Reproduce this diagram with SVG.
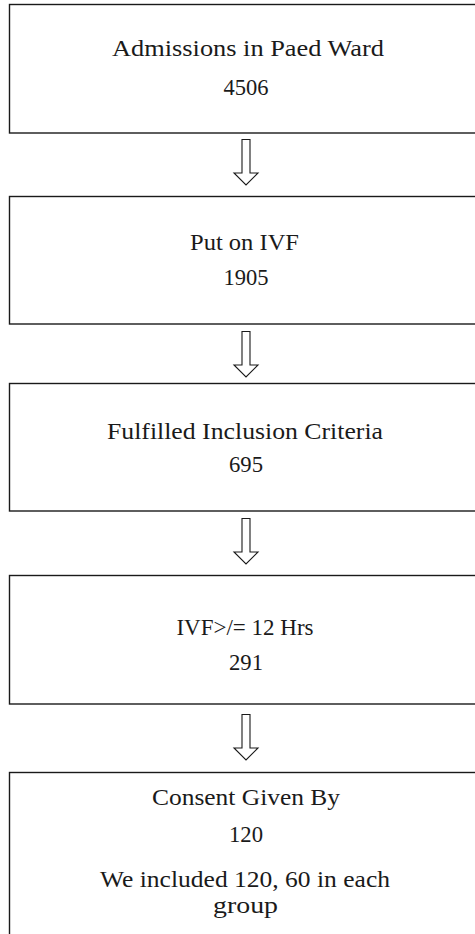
<svg xmlns="http://www.w3.org/2000/svg" width="475" height="934" viewBox="0 0 475 934">
<style>
.box{fill:#fff;stroke:#1a1a1a;stroke-width:1.4}
.t{font-family:"Liberation Serif","Times New Roman",serif;font-size:23px;fill:#1a1a1a;text-anchor:middle}
.arr{fill:#fff;stroke:#1a1a1a;stroke-width:1.1;stroke-linejoin:miter}
</style>
<rect width="475" height="934" fill="#fff"/>
<g id="n1">
<rect class="box" x="9.5" y="4.5" width="480" height="128.5"/>
<text class="t" x="248" y="56" textLength="272" lengthAdjust="spacingAndGlyphs">Admissions in Paed Ward</text>
<text class="t" x="246" y="95" textLength="45" lengthAdjust="spacingAndGlyphs">4506</text>
</g>
<g id="n2">
<rect class="box" x="9.5" y="196.5" width="480" height="127.5"/>
<text class="t" x="244.5" y="250" textLength="109" lengthAdjust="spacingAndGlyphs">Put on IVF</text>
<text class="t" x="246" y="285" textLength="45" lengthAdjust="spacingAndGlyphs">1905</text>
</g>
<g id="n3">
<rect class="box" x="9.5" y="383.5" width="480" height="127.5"/>
<text class="t" x="245" y="439" textLength="276" lengthAdjust="spacingAndGlyphs">Fulfilled Inclusion Criteria</text>
<text class="t" x="246" y="472" textLength="34" lengthAdjust="spacingAndGlyphs">695</text>
</g>
<g id="n4">
<rect class="box" x="9.5" y="575.5" width="480" height="128.5"/>
<text class="t" x="245" y="635">IVF&gt;/= 12 Hrs</text>
<text class="t" x="246" y="670" textLength="34" lengthAdjust="spacingAndGlyphs">291</text>
</g>
<g id="n5">
<rect class="box" x="9.5" y="772.5" width="480" height="170"/>
<text class="t" x="246" y="805" textLength="188" lengthAdjust="spacingAndGlyphs">Consent Given By</text>
<text class="t" x="246" y="842" textLength="34" lengthAdjust="spacingAndGlyphs">120</text>
<text class="t" x="245" y="887" textLength="290" lengthAdjust="spacingAndGlyphs">We included 120, 60 in each</text>
<text class="t" x="245.5" y="913" textLength="65" lengthAdjust="spacingAndGlyphs">group</text>
</g>
<g id="connectors">
<path class="arr" d="M242 139.5 H250 V173 H258 L246 185 L234 173 H242 Z"/>
<path class="arr" d="M242 331.5 H250 V365 H258 L246 377 L234 365 H242 Z"/>
<path class="arr" d="M242 518.5 H250 V552 H258 L246 564 L234 552 H242 Z"/>
<path class="arr" d="M242 714.5 H250 V748 H258 L246 760 L234 748 H242 Z"/>
</g>
</svg>
